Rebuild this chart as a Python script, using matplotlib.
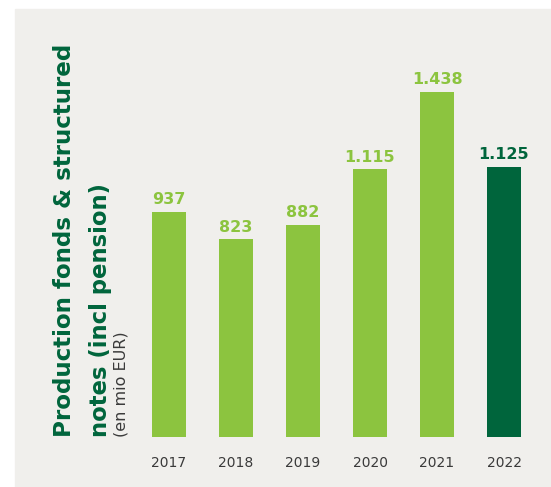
import matplotlib.pyplot as plt

years = ["2017", "2018", "2019", "2020", "2021", "2022"]
values = [937, 823, 882, 1115, 1438, 1125]
labels = ["937", "823", "882", "1.115", "1.438", "1.125"]

light = "#8cc43f"
dark = "#00653c"
colors = [light] * 5 + [dark]

W, H = 551, 487
fig = plt.figure(figsize=(W / 100, H / 100), dpi=100)
fig.patch.set_facecolor("white")

# grey panel behind everything
fig.patches.append(plt.Rectangle((15 / W, 0), 1 - 15 / W, 1 - 9 / H,
                                 transform=fig.transFigure, color="#f0efec", zorder=-1))

ax = fig.add_axes([135.5 / W, 50 / H, 402 / W, 384 / H])
ax.set_zorder(2)
ax.set_facecolor("none")
x = list(range(len(years)))
bars = ax.bar(x, values, width=0.51, color=colors)
ax.set_xlim(-0.5, 5.5)
ax.set_ylim(0, 1600)

for xi, v, lab, c in zip(x, values, labels, colors):
    ax.annotate(lab, (xi, v), xytext=(0, 3.5), textcoords="offset points",
                ha="center", va="bottom", fontsize=11.5, fontweight="bold", color=c)

ax.set_xticks(x)
ax.set_xticklabels(years, fontsize=10, color="#3a3a3a")
ax.tick_params(axis="x", length=0, pad=14)
ax.set_yticks([])
for s in ax.spines.values():
    s.set_visible(False)

fig.text(65 / W, 50 / H, "Production fonds & structured", rotation=90,
         ha="center", va="bottom", fontsize=16.6, fontweight="bold", color=dark, zorder=3)
fig.text(100 / W, 50 / H, "notes (incl pension)", rotation=90,
         ha="center", va="bottom", fontsize=16.4, fontweight="bold", color=dark, zorder=3)
fig.text(121 / W, 50 / H, "(en mio EUR)", rotation=90,
         ha="center", va="bottom", fontsize=11.5, color="#3a3a3a", zorder=3)

fig.savefig("out.png", dpi=100)
